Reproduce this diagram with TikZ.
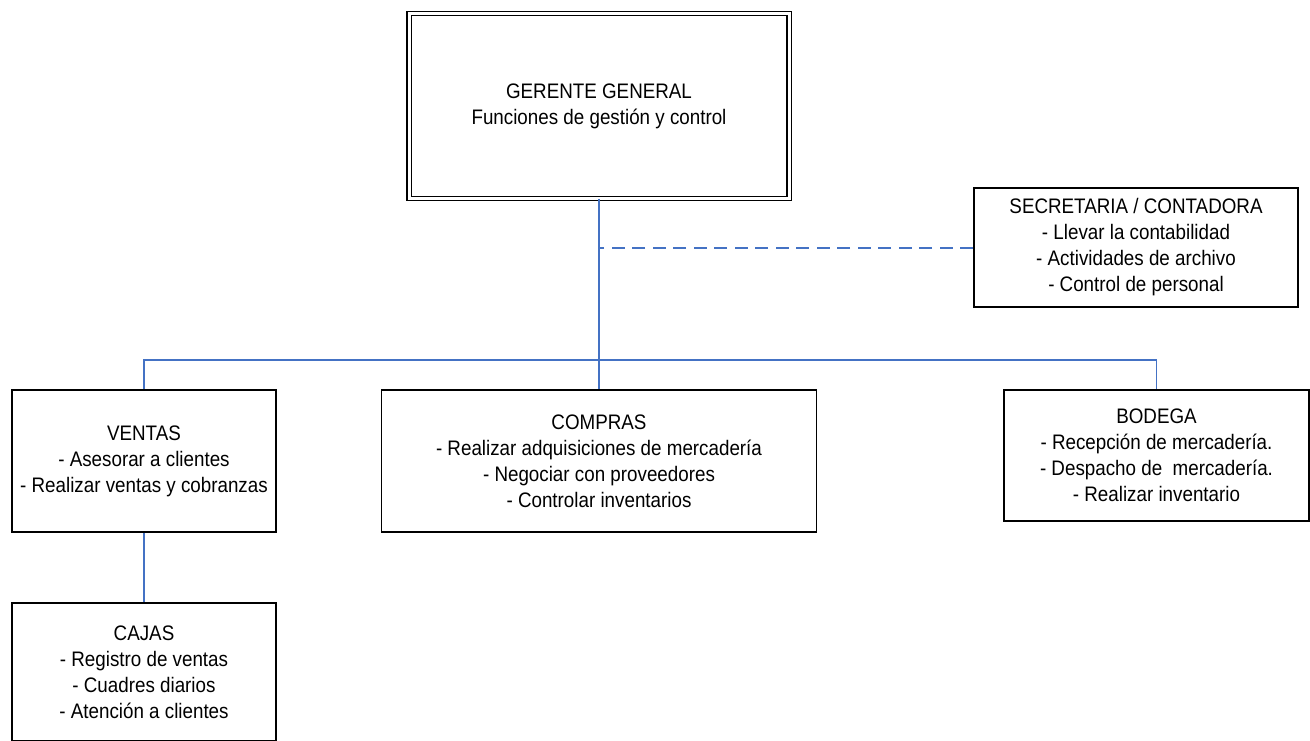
\documentclass[tikz,border=0pt]{standalone}
\usepackage{fontspec}
\setmainfont{Liberation Sans}[FakeStretch=0.895]
\usetikzlibrary{calc}
\definecolor{conncol}{RGB}{68,114,196}
\tikzset{
  box/.style={draw=black, line width=1.6pt, fill=white, align=center, inner sep=2pt,
    font=\fontsize{21}{26}\selectfont},
  conn/.style={draw=conncol, line width=1.5pt},
  dashconn/.style={color=conncol, line width=2pt, dash pattern=on 13pt off 7.5pt}
}
\begin{document}
\begin{tikzpicture}[x=1pt,y=-1pt]
\useasboundingbox (0,0) rectangle (1310,740);
\node[box, double, double distance=3pt, line width=1.2pt, minimum width=380pt, minimum height=185pt] (ger) at (599,106)
  {GERENTE GENERAL\\Funciones de gestión y control};
\node[box, minimum width=324pt, minimum height=119pt] (sec) at (1136,247.5)
  {SECRETARIA / CONTADORA\\- Llevar la contabilidad\\- Actividades de archivo\\- Control de personal};
\node[box, minimum width=264pt, minimum height=142pt] (ven) at (144,461)
  {VENTAS\\- Asesorar a clientes\\- Realizar ventas y cobranzas};
\node[box, minimum width=435pt, minimum height=142pt] (com) at (599,461)
  {COMPRAS\\- Realizar adquisiciones de mercadería\\- Negociar con proveedores\\- Controlar inventarios};
\node[box, minimum width=305pt, minimum height=131pt] (bod) at (1156.5,455.5)
  {BODEGA\\- Recepción de mercadería.\\- Despacho de\ \ mercadería.\\- Realizar inventario};
\node[box, minimum width=264pt, minimum height=138pt] (caj) at (144,672)
  {CAJAS\\- Registro de ventas\\- Cuadres diarios\\- Atención a clientes};
\coordinate (bus) at (599,360);
\draw[conn] (ger.south) -- (com.north);
\draw[conn] (ven.north) |- (bus) -| (bod.north);
\draw[conn] (ven.south) -- (caj.north);
\draw[dashconn] (sec.west) -- (sec.west -| ger.south);
\end{tikzpicture}
\end{document}
